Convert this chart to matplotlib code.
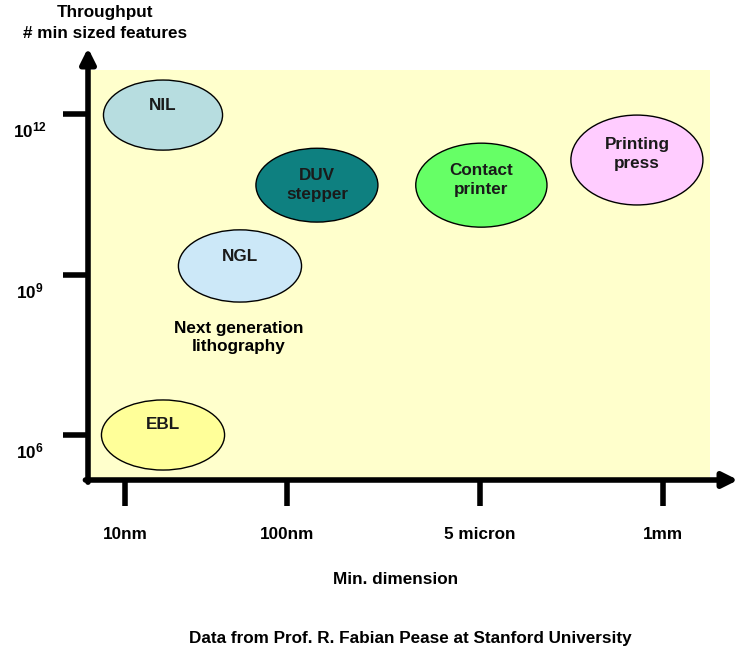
import matplotlib

matplotlib.use("Agg")
import matplotlib.pyplot as plt
from matplotlib.patches import Ellipse, Rectangle

plt.rcParams["font.family"] = ["Liberation Sans", "DejaVu Sans"]
plt.rcParams["font.weight"] = "bold"
plt.rcParams["mathtext.fontset"] = "custom"
plt.rcParams["mathtext.rm"] = "Liberation Sans:bold"
plt.rcParams["mathtext.bf"] = "Liberation Sans:bold"

FS = 12.3

# schematic x positions of the min-dimension ticks
x_labels = ["10nm", "100nm", "5 micron", "1mm"]
x_ticks = [1.0, 2.0, 3.19, 4.32]
# throughput exponents (10^n)
y_exps = [6, 9, 12]

# technologies: label, x centre, log10 throughput centre, width, height (decades), colour
tech_names = ["NIL", "DUV\nstepper", "NGL", "Contact\nprinter", "Printing\npress", "EBL"]
tech_x = [1.235, 2.185, 1.71, 3.20, 4.16, 1.235]
tech_y = [11.98, 10.67, 9.16, 10.67, 11.14, 6.0]
tech_w = [0.735, 0.753, 0.76, 0.81, 0.815, 0.76]
tech_h = [1.31, 1.38, 1.35, 1.57, 1.68, 1.31]
tech_colors = ["#B7DDE0", "#0E8080", "#CCE8F8", "#66FF66", "#FFCCFF", "#FFFF99"]
# label shift above ellipse centre (decades)
label_dy = [0.18, 0.0, 0.17, 0.09, 0.12, 0.19]

fig = plt.figure(figsize=(7.45, 6.61), dpi=100)
ax = fig.add_axes([88 / 745, (661 - 480) / 661, 650 / 745, 432 / 661])
ax.set_xlim(0.772, 4.784)
ax.set_ylim(5.159, 13.234)
for s in ax.spines.values():
    s.set_visible(False)

# pale yellow plot area
ax.add_patch(Rectangle((0.772, 5.159), 4.611 - 0.772, 12.822 - 5.159,
                       facecolor="#FFFFCC", edgecolor="none", zorder=0))

for name, x, y, w, h, c, dy in zip(tech_names, tech_x, tech_y, tech_w, tech_h,
                                   tech_colors, label_dy):
    ax.add_patch(Ellipse((x, y), w, h, facecolor=c, edgecolor="black", lw=1.0, zorder=2))
    ax.text(x, y + dy, name, ha="center", va="center", fontsize=FS,
            fontweight="bold", color="#1a1a1a", linespacing=1.35, zorder=3)

ax.text(1.70, 7.82, "Next generation\nlithography", ha="center", va="center",
        fontsize=FS, fontweight="bold", linespacing=1.3)

# axes with arrows
arrow = dict(arrowstyle="-|>,head_length=0.9,head_width=0.45", lw=4, color="black",
             shrinkA=0, shrinkB=0)
ax.annotate("", xy=(0, 1), xytext=(0, -0.005), xycoords="axes fraction", arrowprops=arrow)
ax.annotate("", xy=(1, 0), xytext=(-0.004, 0), xycoords="axes fraction", arrowprops=arrow)

ax.set_xticks(x_ticks)
ax.set_xticklabels(x_labels, fontsize=FS, fontweight="bold")
ax.tick_params(axis="x", length=19, width=4, pad=15)
ax.set_yticks(y_exps)
ax.set_yticklabels([])
ax.tick_params(axis="y", length=18, width=4)
for e in y_exps:
    ax.text(-0.09, e - 0.31, r"$\mathbf{10^{%d}}$" % e, transform=ax.get_yaxis_transform(),
            ha="center", va="center", fontsize=FS)

fig.text(105 / 745, 1 - 13 / 661, "Throughput", ha="center", va="center",
         fontsize=FS, fontweight="bold")
fig.text(105 / 745, 1 - 33 / 661, "# min sized features", ha="center", va="center",
         fontsize=FS, fontweight="bold")
fig.text(396 / 745, 1 - 580 / 661, "Min. dimension", ha="center", va="center",
         fontsize=FS, fontweight="bold")
fig.text(410 / 745, 1 - 638 / 661, "Data from Prof. R. Fabian Pease at Stanford University",
         ha="center", va="center", fontsize=FS, fontweight="bold")

fig.savefig("out.png", dpi=100)
